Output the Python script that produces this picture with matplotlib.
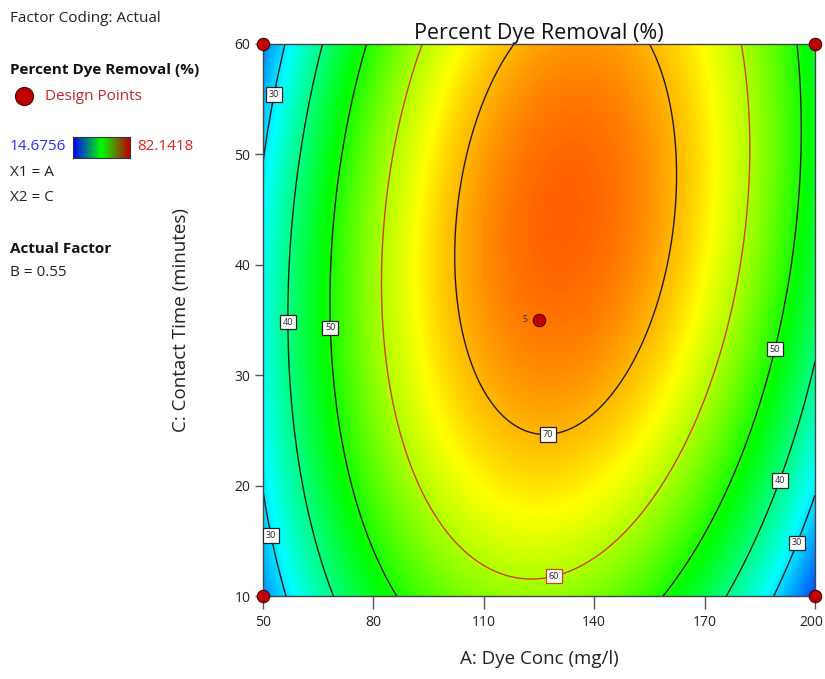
import numpy as np
import matplotlib
matplotlib.use('Agg')
import matplotlib.pyplot as plt
import matplotlib.transforms as mtransforms
from matplotlib.colors import LinearSegmentedColormap

# response surface (coded units, B held at 0.55)
# Y = b0 + bA*a + bC*c + bAA*a^2 + bCC*c^2 + bAC*a*c
model_terms = ['b0', 'A', 'C', 'A2', 'C2', 'AC']
model_coefs = [74.26, 4.45, 6.43, -36.5, -9.37, 6.86]
a_range = [50, 200]
c_range = [10, 60]
a_ticks = [50, 80, 110, 140, 170, 200]
c_ticks = [10, 20, 30, 40, 50, 60]
contour_levels = [30, 40, 50, 60, 70]
resp_min, resp_max = 14.6756, 82.1418

design_a = [50, 50, 200, 200, 125]
design_c = [10, 60, 10, 60, 35]
center_reps = 5

# label spots (A, C) for contour labels
label_spots = [(53.5, 55.4), (52.4, 15.5), (56.8, 34.8), (68.2, 34.3), (127.4, 24.9),
               (128.8, 12.2), (188.6, 32.4), (190.0, 20.5), (194.6, 14.9)]

plt.rcParams['font.family'] = ['Open Sans', 'DejaVu Sans']


def predict(A, C):
    a = (A - 125.0) / 75.0
    c = (C - 35.0) / 25.0
    b = dict(zip(model_terms, model_coefs))
    return b['b0'] + b['A'] * a + b['C'] * c + b['A2'] * a ** 2 + b['C2'] * c ** 2 + b['AC'] * a * c


cmap = LinearSegmentedColormap.from_list('de', ['#0000ff', '#00ffff', '#00ff00', '#ffff00', '#ff0000'])
bar_cmap = LinearSegmentedColormap.from_list('bar', ['#0000ff', '#00ff00', '#c00000'])
red_line = '#d2401c'

fig = plt.figure(figsize=(8.25, 6.79), dpi=100)
ax = fig.add_axes([263 / 825, 83 / 679, 552 / 825, 552 / 679])

A, C = np.meshgrid(np.linspace(*a_range, 400), np.linspace(*c_range, 400))
Z = predict(A, C)
ax.imshow(Z, extent=[*a_range, *c_range], origin='lower', aspect='auto', cmap=cmap,
          vmin=resp_min, vmax=resp_max, interpolation='bilinear')
line_cols = ['#1e1e1e' if lv != 60 else red_line for lv in contour_levels]
cs = ax.contour(A, C, Z, levels=contour_levels, colors=line_cols, linewidths=1.0)
labels = ax.clabel(cs, inline=False, fontsize=6.5, fmt='%d', manual=label_spots)
for t in labels:
    t.set_rotation(0)
    t.set_color('#222222')
    ec = red_line if t.get_text() == '60' else '#222222'
    t.set_bbox(dict(boxstyle='square,pad=0.3', facecolor='white', edgecolor=ec, linewidth=0.9))

ax.scatter(design_a, design_c, s=80, color='#c00000', edgecolors='#4a0000', linewidths=0.8,
           zorder=5, clip_on=False)
ax.text(design_a[-1] - 3, design_c[-1], str(center_reps), fontsize=6.5, ha='right', va='center', color='#333333')

ax.set_xlim(*a_range)
ax.set_ylim(*c_range)
ax.set_xticks(a_ticks)
ax.set_yticks(c_ticks)
ax.tick_params(axis='x', length=9, width=1, colors='#555555', labelsize=10, labelcolor='#222222', pad=5)
ax.tick_params(axis='y', length=6, width=1, colors='#555555', labelsize=10, labelcolor='#222222', pad=3)
# last x tick label sits on the figure edge, nudge it in a bit
last_lbl = ax.get_xticklabels()[-1]
last_lbl.set_transform(last_lbl.get_transform() + mtransforms.ScaledTranslation(-4 / 100, 0, fig.dpi_scale_trans))
for sp in ax.spines.values():
    sp.set_color('#444444')
    sp.set_linewidth(1.0)
ax.set_title('Percent Dye Removal (%)', fontsize=15.5, color='#111111', pad=3)
ax.set_xlabel('A: Dye Conc (mg/l)', fontsize=13.5, color='#222222', labelpad=14)
ax.set_ylabel('C: Contact Time (minutes)', fontsize=13.5, color='#222222', labelpad=32)

# left info panel
def ftxt(x, y, s, **kw):
    fig.text(x / 825, 1 - y / 679, s, va='center', ha='left', **kw)

ftxt(10, 18, 'Factor Coding: Actual', fontsize=11, color='#222222')
ftxt(10, 70, 'Percent Dye Removal (%)', fontsize=11, fontweight='bold', color='#111111')
fig.add_artist(plt.Line2D([24 / 825], [1 - 96 / 679], marker='o', markersize=13, color='#c00000',
                          markeredgecolor='#4a0000', markeredgewidth=0.8))
ftxt(45, 96, 'Design Points', fontsize=11, color='#c0282d')
ftxt(10, 147, f'{resp_min:.4f}', fontsize=11, color='#2b2bff')
ftxt(137, 147, f'{resp_max:.4f}', fontsize=11, color='#e02020')
bar_ax = fig.add_axes([73 / 825, 1 - 158 / 679, 57 / 825, 21 / 679])
bar_ax.imshow(np.linspace(0, 1, 100)[None, :], aspect='auto', cmap=bar_cmap)
bar_ax.set_xticks([])
bar_ax.set_yticks([])
for sp in bar_ax.spines.values():
    sp.set_color('#333333')
    sp.set_linewidth(0.8)
ftxt(10, 172, 'X1 = A', fontsize=11, color='#222222')
ftxt(10, 197, 'X2 = C', fontsize=11, color='#222222')
ftxt(10, 249, 'Actual Factor', fontsize=11, fontweight='bold', color='#111111')
ftxt(10, 273, 'B = 0.55', fontsize=11, color='#222222')

fig.savefig('out.png', dpi=100, facecolor='white')
plt.close(fig)
